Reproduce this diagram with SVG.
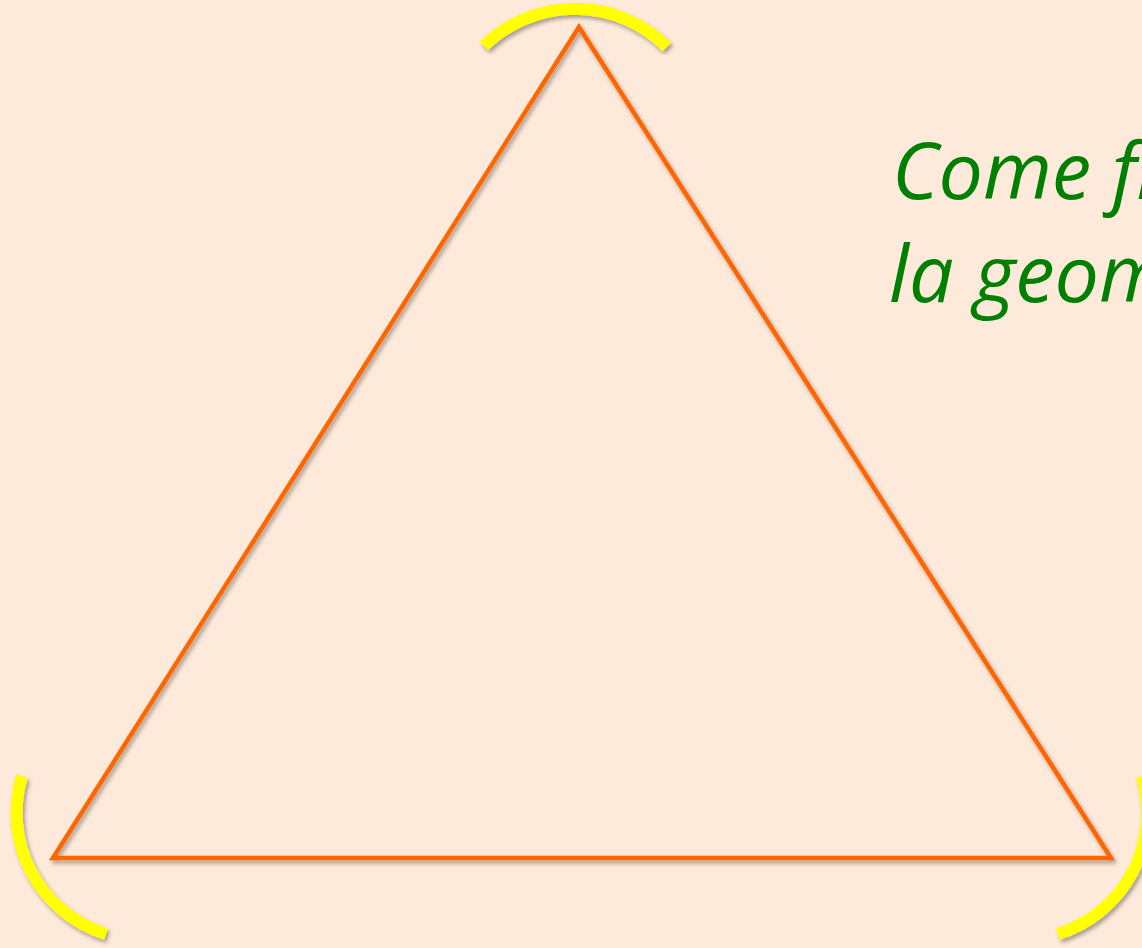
<svg xmlns="http://www.w3.org/2000/svg" width="1142" height="948" viewBox="0 0 1142 948">
  <defs>
    <filter id="shadow" x="-20%" y="-20%" width="140%" height="140%">
      <feDropShadow dx="2" dy="3" stdDeviation="2" flood-color="#000" flood-opacity="0.35"/>
    </filter>
  </defs>
  <style>
    .tri { fill: none; stroke: #FF6600; stroke-width: 4.5; stroke-linejoin: miter; filter: url(#shadow); }
    .arc { fill: none; stroke: #FFFF00; stroke-width: 12; filter: url(#shadow); }
    .label { font-family: "Open Sans", "Noto Sans", sans-serif; font-style: italic; font-size: 79px; fill: #008000; }
  </style>
  <rect width="1142" height="948" fill="#FDEADA"/>
  <g id="triangle">
    <polygon class="tri" points="579,27 1111,858 53,858"/>
  </g>
  <g id="arc-top">
    <path class="arc" d="M 484 46 A 130 130 0 0 1 667 47"/>
  </g>
  <g id="arc-left">
    <path class="arc" d="M 22 776 A 127 127 0 0 0 106 934"/>
  </g>
  <g id="arc-right">
    <path class="arc" d="M 1142 776 A 127 127 0 0 1 1058 934"/>
  </g>
  <g id="text">
    <text class="label" x="892" y="199">Come fi</text>
    <text class="label" x="889" y="302">la geom</text>
  </g>
</svg>
